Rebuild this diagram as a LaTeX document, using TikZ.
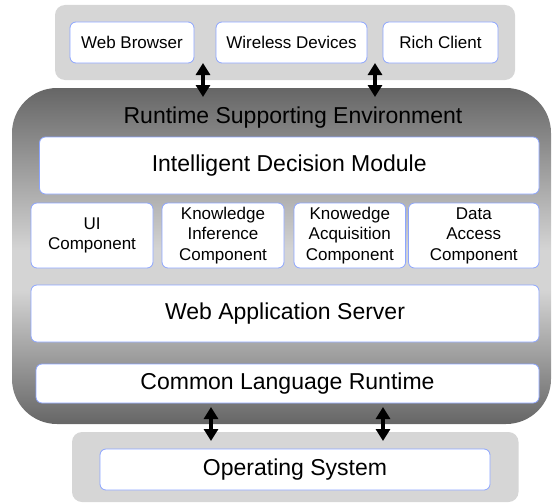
\documentclass[tikz,border=0pt]{standalone}
\usepackage{fontspec}
\setmainfont{Liberation Sans}
\usetikzlibrary{arrows.meta}
\definecolor{grayc}{RGB}{214,214,214}
\definecolor{bord}{RGB}{140,165,255}
\definecolor{sdark}{RGB}{102,102,102}
\definecolor{slight}{RGB}{212,212,212}
\pgfdeclareverticalshading{bigshade}{100bp}{color(0bp)=(sdark); color(25bp)=(sdark); color(44.9bp)=(slight); color(50.9bp)=(slight); color(75bp)=(sdark); color(100bp)=(sdark)}
\begin{document}
\begin{tikzpicture}[x=1pt,y=-1pt,
  container/.style={fill=grayc, rounded corners=10pt, draw=none, inner sep=0pt},
  wbox/.style={draw=bord, line width=0.8pt, fill=white, rounded corners=6pt, inner sep=0pt, align=center},
  small/.style={font=\fontsize{17}{20.5}\selectfont},
  large/.style={font=\fontsize{23}{27}\selectfont},
  dblarrow/.style={line width=4pt, {Triangle[width=14pt,length=12pt]}-{Triangle[width=14pt,length=12pt]}}
]
\useasboundingbox (0,0) rectangle (553,503);
\clip (0,0) rectangle (553,503);

% containers
\node[container, minimum width=460pt, minimum height=75pt] (clients) at (285,42.5) {};
\node[container, minimum width=446.5pt, minimum height=70pt] (osbg) at (295.25,467) {};
\node[shade, shading=bigshade, rounded corners=45pt, inner sep=0pt,
      minimum width=539pt, minimum height=336pt] (env) at (281.5,256) {};

% client boxes
\node[wbox, small, minimum width=124pt, minimum height=41pt] (wb) at (132,42.5) {Web Browser};
\node[wbox, small, minimum width=151pt, minimum height=41pt] (wd) at (291.5,42.5) {Wireless Devices};
\node[wbox, small, minimum width=115pt, minimum height=41pt] (rc) at (440.5,42.5) {Rich Client};

% environment contents
\node[large] (envlabel) at (293,118) {Runtime Supporting Environment};
\node[wbox, large, minimum width=499.5pt, minimum height=57pt] (idm) at (289.25,165.5) {Intelligent Decision Module};
\node[wbox, small, minimum width=122pt, minimum height=65pt] (ui) at (92,235.5) {UI\\Component};
\node[wbox, small, minimum width=122pt, minimum height=65pt] (ki) at (223,235.5) {Knowledge\\Inference\\Component};
\node[wbox, small, minimum width=111.6pt, minimum height=65pt] (ka) at (349.8,235.5) {Knowedge\\Acquisition\\Component};
\node[wbox, small, minimum width=130.5pt, minimum height=65pt] (da) at (473.75,235.5) {Data\\Access\\Component};
\node[wbox, large, minimum width=508pt, minimum height=57pt] (was) at (285,313.5) {Web Application Server};
\node[wbox, large, minimum width=503pt, minimum height=39pt] (clr) at (287.5,383.5) {Common Language Runtime};

% OS
\node[wbox, large, minimum width=390pt, minimum height=41pt] (os) at (295,469.5) {Operating System};

% arrows
\coordinate (t1a) at (203,63);
\coordinate (t1b) at (203,97);
\coordinate (t2a) at (375,63);
\coordinate (t2b) at (375,97);
\coordinate (b1a) at (211,407);
\coordinate (b1b) at (211,441);
\coordinate (b2a) at (383,407);
\coordinate (b2b) at (383,441);
\draw[dblarrow] (t1a) -- (t1b);
\draw[dblarrow] (t2a) -- (t2b);
\draw[dblarrow] (b1a) -- (b1b);
\draw[dblarrow] (b2a) -- (b2b);
\end{tikzpicture}
\end{document}
